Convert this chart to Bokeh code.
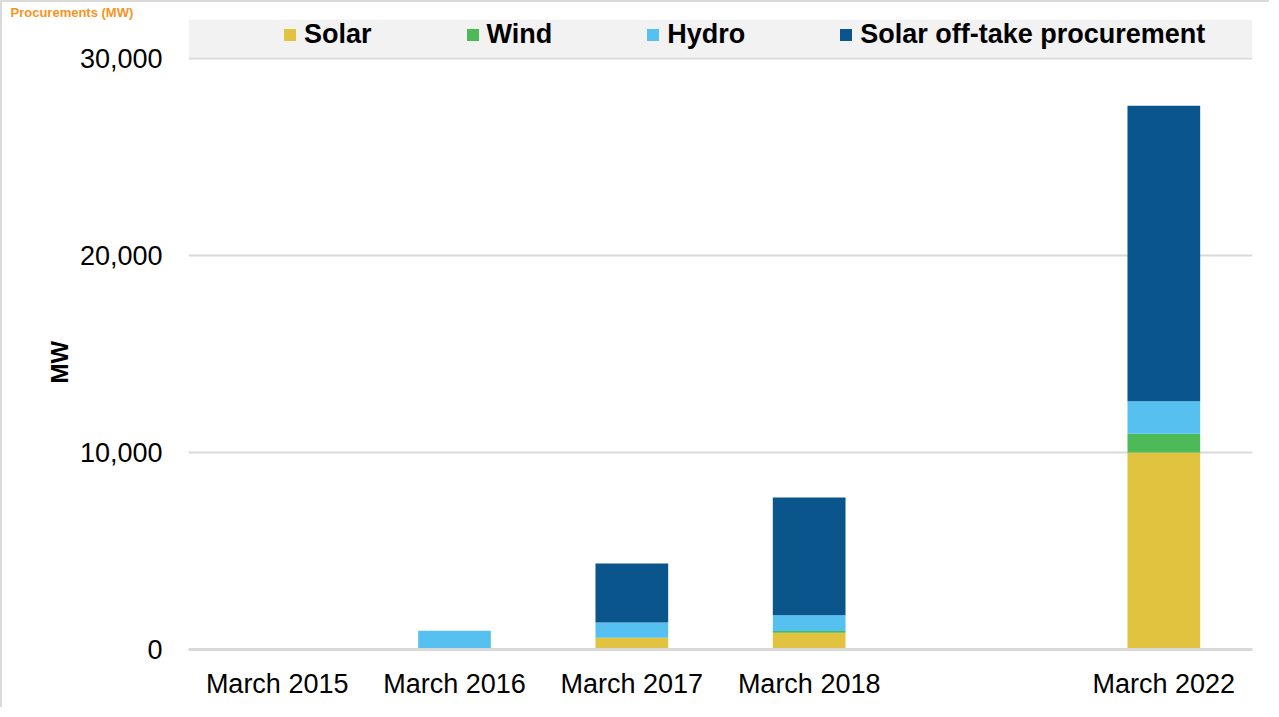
from bokeh.plotting import figure
from bokeh.models import (ColumnDataSource, FixedTicker, NumeralTickFormatter,
                          Legend, LegendItem, BoxAnnotation, Range1d, Title)
from bokeh.embed import file_html
from bokeh.resources import INLINE

# ---- data ----
positions = [0, 1, 2, 3, 5]
tick_labels = ["March 2015", "March 2016", "March 2017", "March 2018", "March 2022"]
solar = [0, 0, 600, 850, 10000]
wind = [0, 0, 0, 90, 950]
hydro = [0, 950, 770, 800, 1650]
offtake = [0, 0, 3000, 5980, 15000]
series = ["Solar", "Wind", "Hydro", "Solar off-take procurement"]
colors = ["#E2C33F", "#4BBA57", "#56C1F0", "#0A568C"]
y_ticks = [0, 10000, 20000, 30000]

FONT = "Liberation Sans"
W, H = 1269, 707

src = ColumnDataSource(dict(x=positions, Solar=solar, Wind=wind, Hydro=hydro,
                            Offtake=offtake))

p = figure(width=W, height=H, output_backend="svg", toolbar_location=None,
           x_range=Range1d(-0.5, 5.5), y_range=Range1d(0, 31980),
           min_border_left=186, min_border_right=19, min_border_top=17,
           min_border_bottom=60)
p.styles = {"border-left": "2px solid #dadada", "border-top": "2px solid #dadada"}
p.outline_line_color = None
p.background_fill_color = "white"
p.border_fill_color = "white"

# page title (small, top-left)
p.add_layout(Title(text="Procurements (MW)", align="left", offset=-178, standoff=0,
                   text_font=FONT, text_font_size="13px", text_font_style="bold",
                   text_color="#F7941D"), "above")

# y axis title
p.add_layout(Title(text="MW", align="left", offset=266, standoff=8,
                   text_font=FONT, text_font_size="24px", text_font_style="bold",
                   text_color="#000000"), "left")

# legend band
p.add_layout(BoxAnnotation(bottom=30080, fill_color="#f2f2f2", fill_alpha=1.0,
                           line_color=None, level="underlay"))

rs = p.vbar_stack(["Solar", "Wind", "Hydro", "Offtake"], x="x", width=0.41,
                  source=src, color=colors, line_color=None)

legend = Legend(items=[LegendItem(label=s, renderers=[r]) for s, r in zip(series, rs)],
                orientation="horizontal", location=(94, 599),
                background_fill_alpha=0, border_line_color=None,
                glyph_width=15, glyph_height=15, label_standoff=7, spacing=93,
                padding=6, margin=0,
                label_text_font=FONT, label_text_font_size="27px",
                label_text_font_style="bold", label_text_color="#000000")
p.add_layout(legend)

# axes
p.xaxis.ticker = FixedTicker(ticks=positions)
p.xaxis.major_label_overrides = {pos: lab for pos, lab in zip(positions, tick_labels)}
p.xaxis.major_label_text_font = FONT
p.xaxis.major_label_text_font_size = "27px"
p.xaxis.major_label_text_color = "#000000"
p.xaxis.major_label_standoff = 19
p.xaxis.major_tick_out = 0
p.xaxis.major_tick_in = 0
p.xaxis.major_tick_line_color = None
p.xaxis.minor_tick_line_color = None
p.xaxis.axis_line_color = "#d9d9d9"
p.xaxis.axis_line_width = 3

p.yaxis.ticker = FixedTicker(ticks=y_ticks)
p.yaxis.formatter = NumeralTickFormatter(format="0,0")
p.yaxis.major_label_text_font = FONT
p.yaxis.major_label_text_font_size = "27px"
p.yaxis.major_label_text_color = "#000000"
p.yaxis.major_label_standoff = 26
p.yaxis.major_tick_out = 0
p.yaxis.major_tick_in = 0
p.yaxis.major_tick_line_color = None
p.yaxis.minor_tick_line_color = None
p.yaxis.axis_line_color = None

p.xgrid.grid_line_color = None
p.ygrid.grid_line_color = "#d9d9d9"
p.ygrid.grid_line_width = 2
p.ygrid.level = "underlay"

open("out.html", "w").write(file_html(p, INLINE))
